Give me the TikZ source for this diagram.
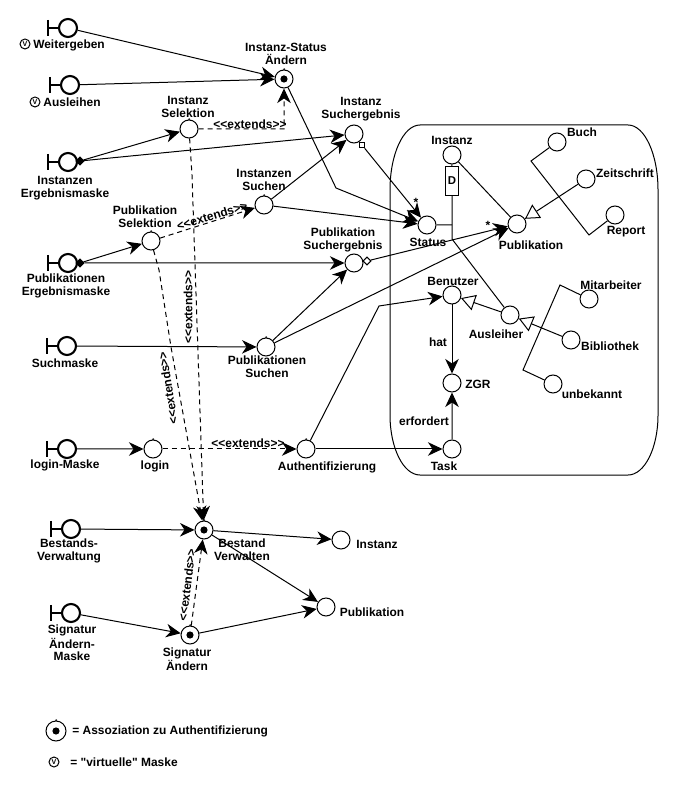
\documentclass[tikz,border=0pt]{standalone}
\usepackage{fontspec}
\newfontfamily\lblfont{Liberation Sans}
\usetikzlibrary{arrows.meta}
\tikzset{
  obj/.style={draw,circle,minimum size=3.6mm,inner sep=0pt,line width=0.2mm},
  iface/.style={obj,line width=0.42mm},
  virt/.style={draw,circle,minimum size=2mm,inner sep=0pt,line width=0.2mm,font=\lblfont\bfseries\fontsize{4}{4}\selectfont},
  lbl/.style={inner sep=0pt,align=center,font=\lblfont\bfseries\fontsize{6.8}{7.2}\selectfont},
  lnk/.style={line width=0.2mm,-{Stealth[length=2.9mm,width=2.7mm,inset=0.9mm]}},
  lne/.style={line width=0.2mm},
  ext/.style={lnk,dash pattern=on 1mm off 0.8mm},
  gen/.style={line width=0.2mm,-{Triangle[open,length=2.8mm,width=3.2mm,fill=white]}},
  dmd/.style={draw,rectangle,minimum size=1.1mm,inner sep=0pt,line width=0.2mm,fill=white},
  fdmd/.style={dmd,fill=black,rotate=45},
}
\newcommand{\ifacebar}[1]{\draw [line width=0.42mm] (#1.west) -- ++(-1,0) ++(0,0.8) -- ++(0,-1.6);}
\newcommand{\ctrlmark}[1]{\draw [line width=0.2mm] ([xshift=-0.6mm,yshift=0.02mm]#1.north) -- ([xshift=0.35mm,yshift=0.55mm]#1.north) -- ([xshift=0.95mm,yshift=-0.02mm]#1.north);}
\newcommand{\dotmark}[1]{\fill [black] (#1) circle (0.36);}
\begin{document}
\begin{tikzpicture}[scale=0.2]
\useasboundingbox (0,0) rectangle (67.6,-78.8);
% masks
\node [iface] (wg) at (6.8,-2.8) {}; \ifacebar{wg}
\node [iface] (al) at (7,-8.5) {}; \ifacebar{al}
\node [iface] (ie) at (6.8,-16.2) {}; \ifacebar{ie}
\node [iface] (pe) at (6.8,-26.3) {}; \ifacebar{pe}
\node [iface] (sm) at (6.7,-34.6) {}; \ifacebar{sm}
\node [iface] (lm) at (6.7,-44.9) {}; \ifacebar{lm}
\node [iface] (bv) at (7.1,-52.9) {}; \ifacebar{bv}
\node [iface] (sa) at (7.1,-61.3) {}; \ifacebar{sa}
\node [virt] (vwg) at (2.5,-4.4) {V};
\node [virt] (val) at (3.5,-10.2) {V};
\node [fdmd] (ied) at (8,-16.1) {};
\node [fdmd] (ped) at (8,-26.3) {};
% controls
\node [obj] (isa) at (28.4,-7.9) {}; \ctrlmark{isa} \dotmark{isa}
\node [obj] (isel) at (18.9,-12.9) {}; \ctrlmark{isel}
\node [obj] (isu) at (26.4,-20.5) {}; \ctrlmark{isu}
\node [obj] (psel) at (15.1,-24.1) {}; \ctrlmark{psel}
\node [obj] (psu) at (26.6,-34.7) {}; \ctrlmark{psu}
\node [obj] (lg) at (15.3,-44.9) {}; \ctrlmark{lg}
\node [obj] (au) at (30.6,-44.9) {}; \ctrlmark{au}
\node [obj] (bw) at (20.4,-53) {}; \ctrlmark{bw} \dotmark{bw}
\node [obj] (sg) at (19,-63.5) {}; \ctrlmark{sg} \dotmark{sg}
\node [obj] (ise) at (35.4,-13.4) {};
\node [obj] (pse) at (35.4,-26.3) {};
\node [obj] (binst) at (34.1,-54) {};
\node [obj] (bpub) at (32.6,-60.7) {};
% entities
\node [obj] (inst) at (45.2,-15.5) {};
\node [obj] (buch) at (55.7,-14.2) {};
\node [obj] (zs) at (58.6,-17.9) {};
\node [obj] (rep) at (61.5,-21.5) {};
\node [obj] (stat) at (42.7,-22.5) {};
\node [obj] (pub) at (51.7,-22.4) {};
\node [obj] (ben) at (45.2,-29.5) {};
\node [obj] (aus) at (51,-31.5) {};
\node [obj] (mit) at (58.9,-29.9) {};
\node [obj] (bib) at (57.1,-34) {};
\node [obj] (unb) at (55.3,-38.4) {};
\node [obj] (zgr) at (45.2,-38.3) {};
\node [obj] (task) at (45.2,-44.9) {};
\node [draw,rectangle,minimum width=2.6mm,minimum height=5.8mm,inner sep=0pt,line width=0.2mm,font=\lblfont\bfseries\fontsize{6.5}{7}\selectfont] (dbox) at (45.2,-18.1) {D};
\node [dmd] (ised) at (36.2,-14.5) {};
\node [dmd,rotate=45] (psed) at (36.7,-26.1) {};
% bends
\coordinate (b1) at (33.6,-18.8);
\coordinate (b2) at (37.9,-30.6);
\coordinate (b3) at (53.1,-16.1);
\coordinate (b4) at (58.9,-23.5);
\coordinate (b5) at (56,-28.5);
\coordinate (b6) at (52.3,-37);
\coordinate (j1) at (45.2,-22.5);
\coordinate (j2) at (45.2,-23.9);
\coordinate (e1) at (28.4,-12.9);
\coordinate (e2) at (19.2,-17.5);
\coordinate (e3) at (15.9,-27);
\coordinate (e4) at (17.1,-34.7);
% outer frame
\draw [line width=0.2mm] (39,-19) arc [start angle=180,end angle=90,x radius=3,y radius=6.5] -- (62.8,-12.5) arc [start angle=90,end angle=0,x radius=3,y radius=6.5] -- (65.8,-41.5) arc [start angle=0,end angle=-90,x radius=3,y radius=6] -- (42,-47.5) arc [start angle=270,end angle=180,x radius=3,y radius=6] -- cycle;
% connectors
\draw [lnk] (wg) -- (isa);
\draw [lnk] (al) -- (isa);
\draw [lnk] (ied) -- (isel);
\draw [lnk] (ied) -- (ise);
\draw [lnk] (ped) -- (psel);
\draw [lnk] (ped) -- (pse);
\draw [lnk] (sm) -- (psu);
\draw [lnk] (lm) -- (lg);
\draw [lnk] (bv) -- (bw);
\draw [lnk] (sa) -- (sg);
\draw [lnk] (isa) -- (b1) -- (stat);
\draw [lnk] (isu) -- (ise);
\draw [lnk] (isu) -- (stat);
\draw [lnk] (ised) -- (stat);
\draw [lnk] (psu) -- (pse);
\draw [lnk] (psu) -- (pub);
\draw [lnk] (psed) -- (pub);
\draw [lnk] (au) -- (b2) -- (ben);
\draw [lnk] (au) -- (task);
\draw [lnk] (bw) -- (binst);
\draw [lnk] (bw) -- (bpub);
\draw [lnk] (sg) -- (bpub);
\draw [lnk] (ben) -- (zgr);
\draw [lnk] (task) -- (zgr);
\draw [lne] (ise) -- (ised);
\draw [lne] (pse) -- (psed);
\draw [lne] (inst) -- (dbox);
\draw [lne] (dbox) -- (j2);
\draw [lne] (stat) -- (j1);
\draw [lne] (j2) -- (aus);
\draw [lne] (inst) -- (pub);
\draw [lne] (buch) -- (b3) -- (b4) -- (rep);
\draw [lne] (mit) -- (b5) -- (b6) -- (unb);
\draw [gen] (zs) -- (pub);
\draw [gen] (aus) -- (ben);
\draw [gen] (bib) -- (aus);
% extends
\draw [ext] (isel) -- (e1) -- (isa);
\draw [ext] (psel) -- (isu);
\draw [ext] (lg) -- (au);
\draw [ext] (isel) -- (e2) -- (bw);
\draw [ext] (psel) -- (e3) -- (e4) -- (bw);
\draw [ext] (sg) -- (bw);
\node [lbl] (x1) at (25,-12.4) {<{}<extends>{}>};
\node [lbl,rotate=17] (x2) at (21.2,-21.6) {<{}<extends>{}>};
\node [lbl,rotate=90] (x3) at (18.8,-30.7) {<{}<extends>{}>};
\node [lbl,rotate=99] (x4) at (16.8,-38.8) {<{}<extends>{}>};
\node [lbl] (x5) at (24.8,-44.3) {<{}<extends>{}>};
\node [lbl,rotate=83] (x6) at (18.7,-58.5) {<{}<extends>{}>};
% labels
\node [lbl] (twg) at (6.9,-4.5) {Weitergeben};
\node [lbl] (tal) at (7.2,-10.2) {Ausleihen};
\node [lbl] (tie) at (6.5,-18.8) {Instanzen\\Ergebnismaske};
\node [lbl] (tpe) at (6.6,-28.6) {Publikationen\\Ergebnismaske};
\node [lbl] (tsm) at (6.5,-36.3) {Suchmaske};
\node [lbl] (tlm) at (6.5,-46.5) {login-Maske};
\node [lbl] (tbv) at (6.9,-55.1) {Bestands-\\Verwaltung};
\node [lbl] (tsa) at (7.2,-64.3) {Signatur\\Ändern-\\Maske};
\node [lbl] (tisa) at (28.6,-5.4) {Instanz-Status\\Ändern};
\node [lbl] (tisel) at (18.8,-10.7) {Instanz\\Selektion};
\node [lbl] (tisu) at (26.4,-18) {Instanzen\\Suchen};
\node [lbl] (tpsel) at (14.5,-21.7) {Publikation\\Selektion};
\node [lbl] (tise) at (36.1,-10.9) {Instanz\\Suchergebnis};
\node [lbl] (tpse) at (34.3,-24) {Publikation\\Suchergebnis};
\node [lbl] (tpsu) at (26.7,-36.7) {Publikationen\\Suchen};
\node [lbl] (tlg) at (15.5,-46.6) {login};
\node [lbl] (tau) at (32.7,-46.7) {Authentifizierung};
\node [lbl] (tbw) at (24.2,-55) {Bestand\\Verwalten};
\node [lbl] (tsg) at (18.7,-65.9) {Signatur\\Ändern};
\node [lbl] (tbinst) at (37.7,-54.4) {Instanz};
\node [lbl] (tbpub) at (37.2,-61.2) {Publikation};
\node [lbl] (tinst) at (45.2,-14) {Instanz};
\node [lbl] (tbuch) at (58.2,-13.2) {Buch};
\node [lbl] (tzs) at (62.5,-17.3) {Zeitschrift};
\node [lbl] (trep) at (62.6,-23.2) {Report};
\node [lbl] (tstat) at (42.8,-24.2) {Status};
\node [lbl] (tpub) at (53.1,-24.5) {Publikation};
\node [lbl] (tben) at (45.3,-28.1) {Benutzer};
\node [lbl] (tmit) at (61.1,-28.5) {Mitarbeiter};
\node [lbl] (taus) at (49.6,-33.4) {Ausleiher};
\node [lbl] (tbib) at (61,-34.6) {Bibliothek};
\node [lbl] (tunb) at (59.2,-39.4) {unbekannt};
\node [lbl] (tzgr) at (47.8,-38.4) {ZGR};
\node [lbl] (that) at (43.8,-34.2) {hat};
\node [lbl] (terf) at (42.4,-42.1) {erfordert};
\node [lbl] (ttask) at (44.4,-46.6) {Task};
\node [lbl] (st1) at (41.6,-20.2) {*};
\node [lbl] (st2) at (48.8,-22.5) {*};
% legend
\node [obj,minimum size=4mm] (lega) at (5.6,-73.1) {}; \ctrlmark{lega} \dotmark{lega}
\node [virt] (legv) at (5.4,-76.2) {V};
\node [lbl,anchor=west] (tlega) at (7.2,-73.1) {= Assoziation zu Authentifizierung};
\node [lbl,anchor=west] (tlegv) at (7,-76.2) {= "virtuelle" Maske};
\end{tikzpicture}
\end{document}
